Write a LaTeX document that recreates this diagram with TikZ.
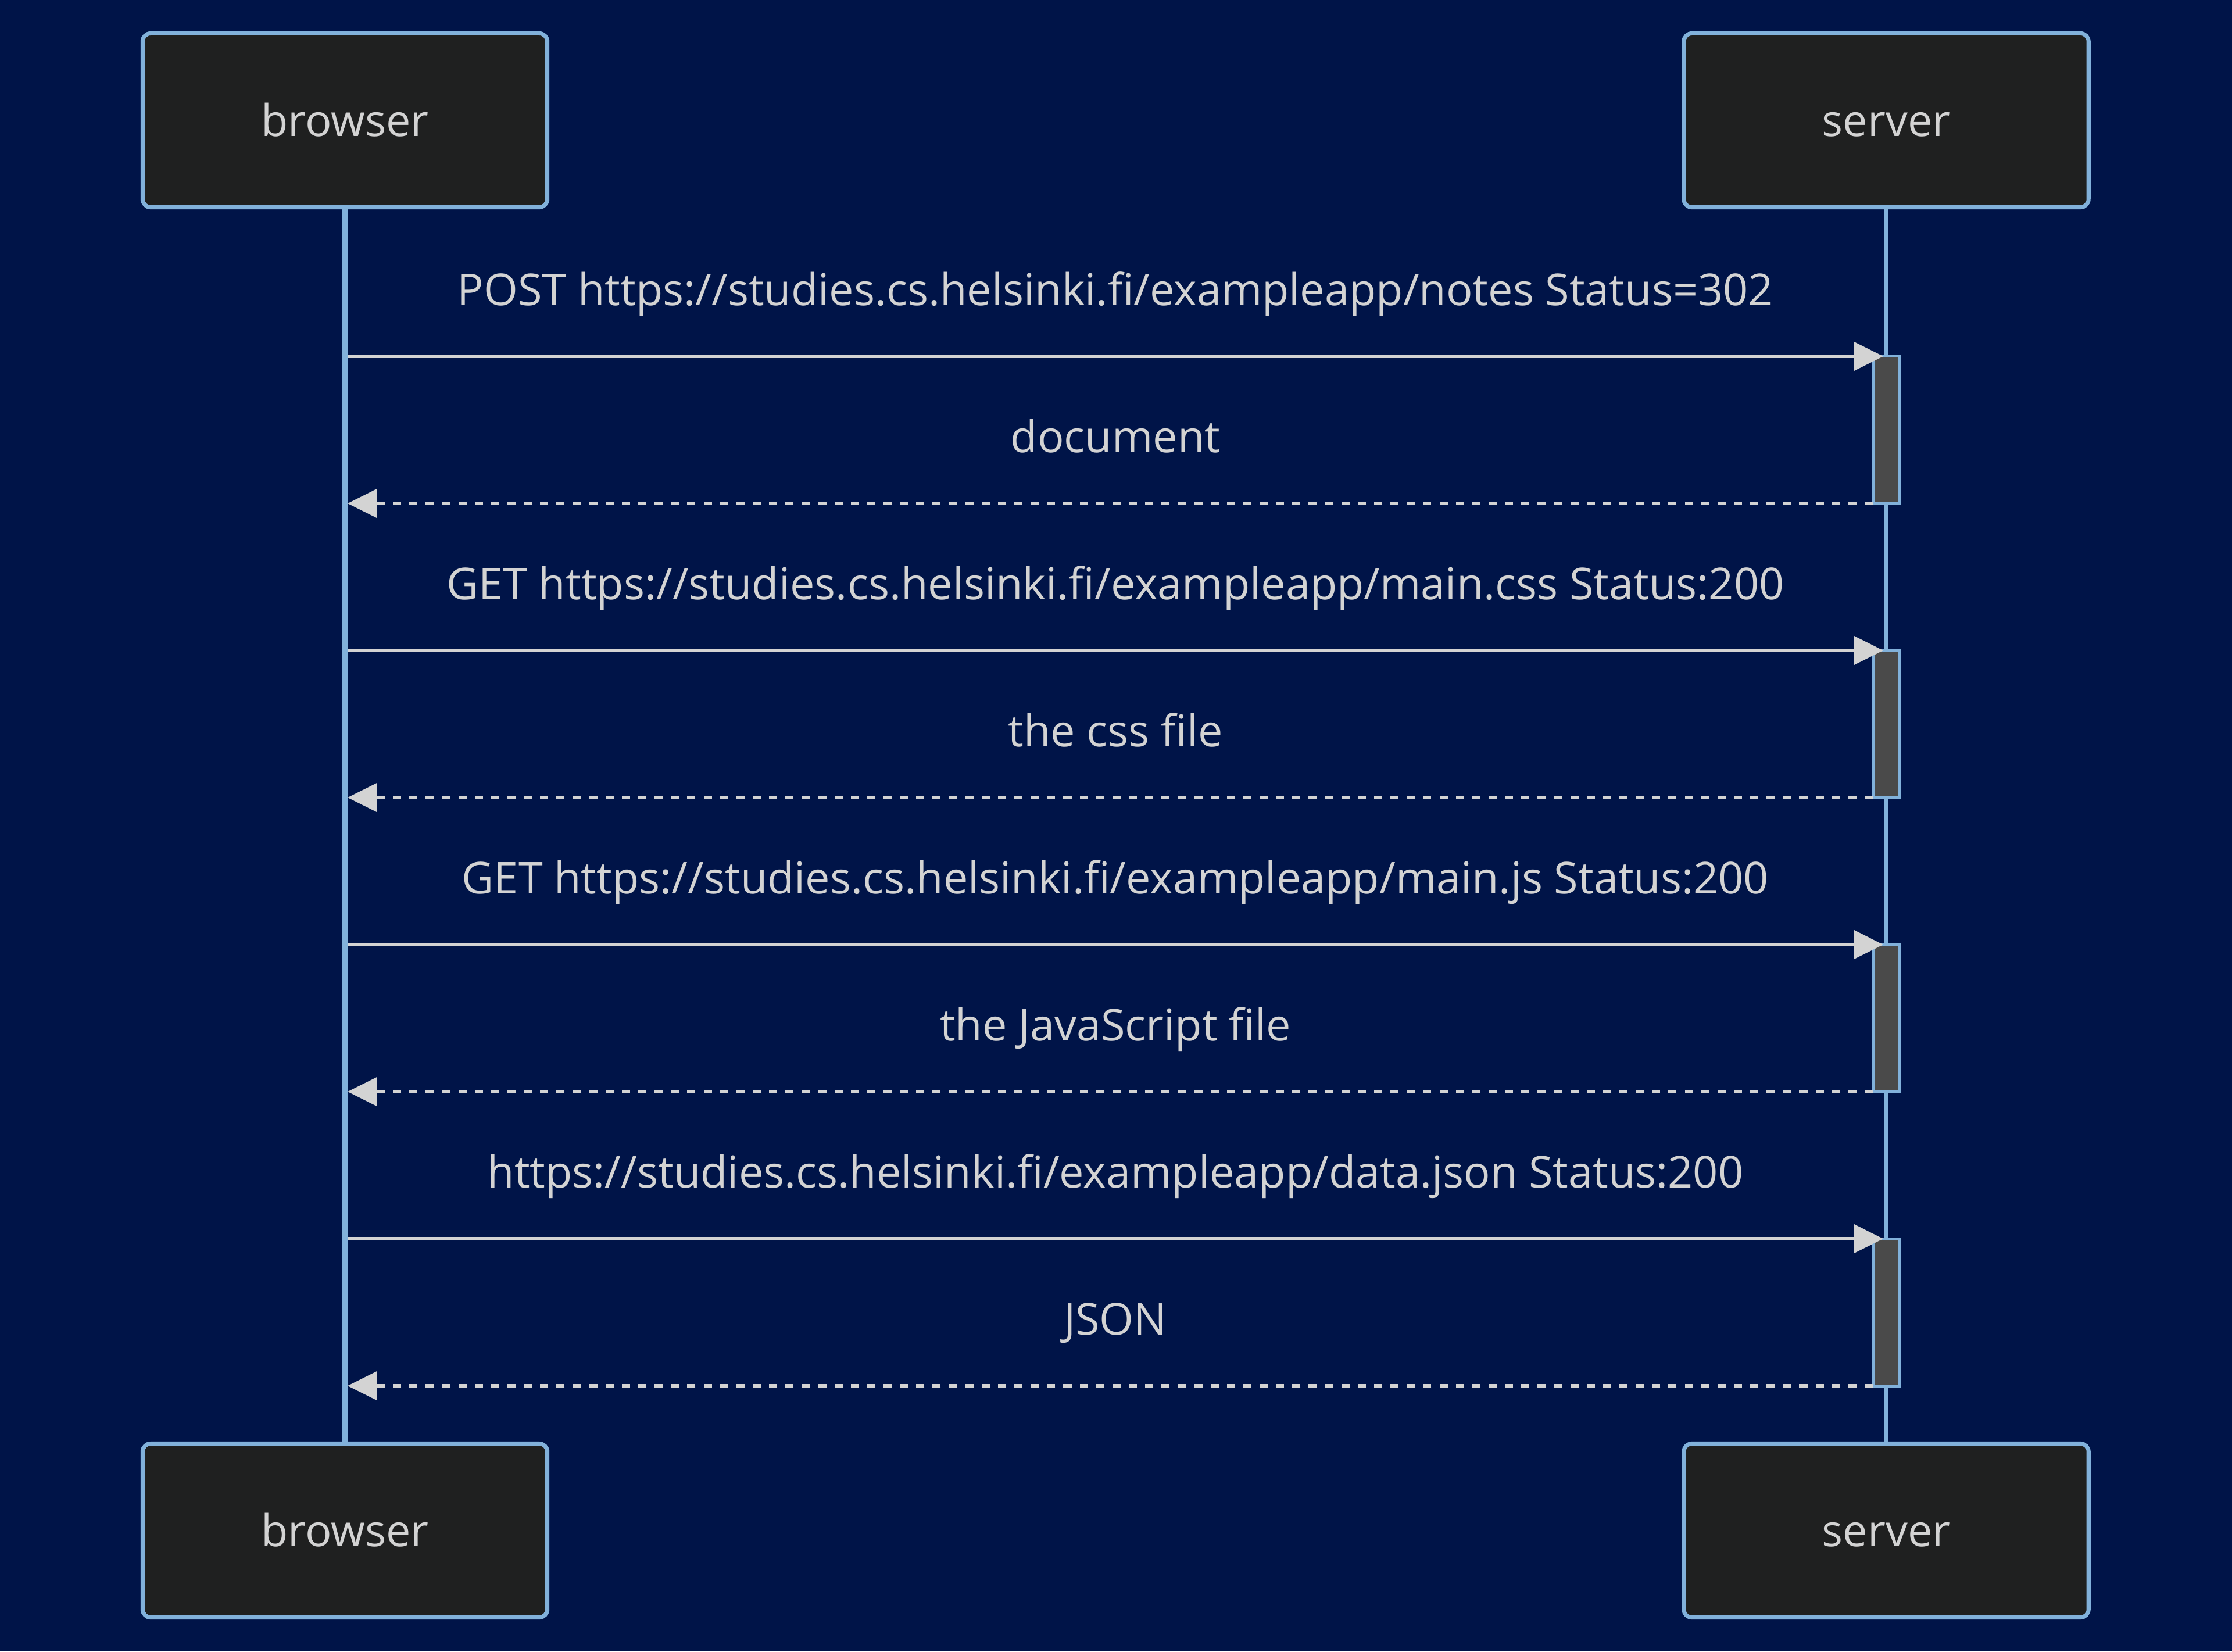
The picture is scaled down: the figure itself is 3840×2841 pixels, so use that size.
\documentclass[tikz,border=0pt]{standalone}
\usepackage{fontspec}
\setmainfont{Open Sans}
\usetikzlibrary{arrows.meta,positioning}
\definecolor{bgnavy}{RGB}{0,20,72}
\definecolor{actorfill}{HTML}{1F2020}
\definecolor{actorline}{HTML}{81B1DB}
\definecolor{msgline}{HTML}{D3D3D3}
\definecolor{actfill}{HTML}{4A4A4A}

\begin{document}
\begin{tikzpicture}[x=0.01cm,y=-0.01cm,>={Triangle[length=0.5cm,width=0.48cm]},
    font=\fontsize{21.5}{26}\selectfont,
    actor/.style={draw=actorline,fill=actorfill,line width=2pt,rounded corners=4pt,minimum width=6.96cm,minimum height=2.99cm,text=msgline,text height=18pt,text depth=2.3pt},
    lifeline/.style={draw=actorline,line width=2.4pt},
    actbar/.style={draw=actorline,fill=actfill,line width=1.4pt,minimum width=0.46cm,inner sep=0pt},
    request/.style={->,draw=msgline,fill=msgline,line width=1.9pt},
    reply/.style={->,draw=msgline,line width=1.9pt,dash pattern=on 4pt off 4pt},
    msg/.style={text=msgline,text height=18pt,text depth=2.3pt}]
                \fill[bgnavy] (0,0) rectangle (3840,2841);
                \useasboundingbox (0,0) rectangle (3840,2841);

                % actors
                \node[actor] (browserTop) at (593.5,207) {browser};
                \node[actor] (serverTop) at (3245,207) {server};
                \node[actor] (browserBot) at (593.5,2633) {browser};
                \node[actor] (serverBot) at (3245,2633) {server};

                \draw[lifeline] (browserTop) -- (browserBot);
                \draw[lifeline] (serverTop) -- (serverBot);

                % activations
                \node[actbar,minimum height=2.53cm] (act1) at (3245.5,739.5) {};
                \node[actbar,minimum height=2.53cm] (act2) at (3245.5,1245.5) {};
                \node[actbar,minimum height=2.53cm] (act3) at (3245.5,1751.5) {};
                \node[actbar,minimum height=2.53cm] (act4) at (3245.5,2257.5) {};

                % message ends
                \coordinate (b1) at (599,613);   \coordinate (s1) at (3240,613);
                \coordinate (b2) at (598,866);   \coordinate (s2) at (3222,866);
                \coordinate (b3) at (599,1119);  \coordinate (s3) at (3240,1119);
                \coordinate (b4) at (598,1372);  \coordinate (s4) at (3222,1372);
                \coordinate (b5) at (599,1625);  \coordinate (s5) at (3240,1625);
                \coordinate (b6) at (598,1878);  \coordinate (s6) at (3222,1878);
                \coordinate (b7) at (599,2131);  \coordinate (s7) at (3240,2131);
                \coordinate (b8) at (598,2384);  \coordinate (s8) at (3222,2384);

                \draw[request] (b1) -- (s1);
                \draw[reply] (s2) -- (b2);
                \draw[request] (b3) -- (s3);
                \draw[reply] (s4) -- (b4);
                \draw[request] (b5) -- (s5);
                \draw[reply] (s6) -- (b6);
                \draw[request] (b7) -- (s7);
                \draw[reply] (s8) -- (b8);

                % labels
                \node[msg] (m1) at (1919,498) {POST https://studies.cs.helsinki.fi/exampleapp/notes Status=302};
                \node[msg] (m2) at (1919,751) {document};
                \node[msg] (m3) at (1919,1004) {GET https://studies.cs.helsinki.fi/exampleapp/main.css Status:200};
                \node[msg] (m4) at (1919,1257) {the css file};
                \node[msg] (m5) at (1919,1510) {GET https://studies.cs.helsinki.fi/exampleapp/main.js Status:200};
                \node[msg] (m6) at (1919,1763) {the JavaScript file};
                \node[msg] (m7) at (1919,2016) {https://studies.cs.helsinki.fi/exampleapp/data.json Status:200};
                \node[msg] (m8) at (1919,2269) {JSON};
            \end{tikzpicture}
\end{document}
